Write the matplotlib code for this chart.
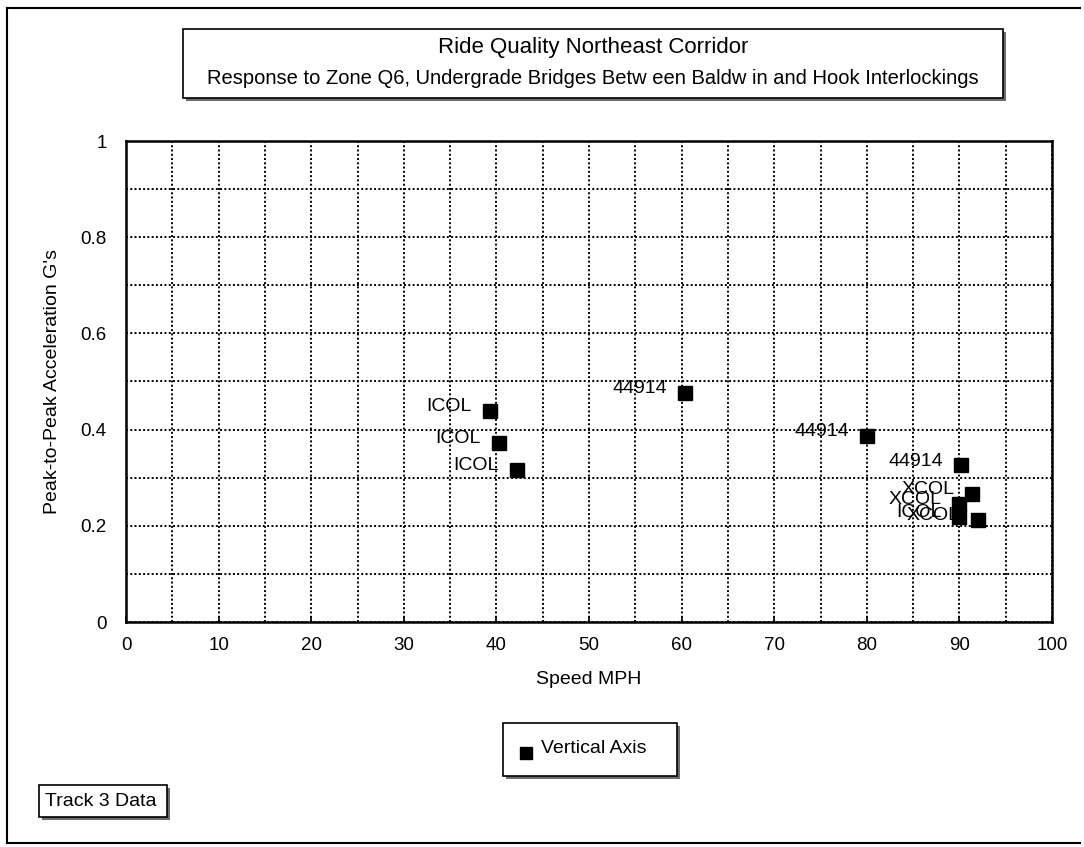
import matplotlib
matplotlib.use("Agg")
import matplotlib.pyplot as plt
from matplotlib.patches import Rectangle
from matplotlib.lines import Line2D
from matplotlib.ticker import MultipleLocator

plt.rcParams['font.family'] = ['Liberation Sans', 'DejaVu Sans']

# ---- data ----
speeds = [39.3, 40.3, 42.2, 60.4, 80.0, 90.2, 91.4, 90.0, 90.0, 92.0]
accels = [0.439, 0.372, 0.316, 0.476, 0.387, 0.326, 0.266, 0.245, 0.218, 0.212]
point_labels = ['ICOL', 'ICOL', 'ICOL', '44914', '44914', '44914',
                'XCOL', 'XCOL', 'ICOL', 'XCOL']
x_ticks = [0, 10, 20, 30, 40, 50, 60, 70, 80, 90, 100]
y_ticks = [0, 0.2, 0.4, 0.6, 0.8, 1]
y_tick_labels = ['0', '0.2', '0.4', '0.6', '0.8', '1']

title = "Ride Quality Northeast Corridor"
subtitle = "Response to Zone Q6, Undergrade Bridges Betw een Baldw in and Hook Interlockings"
series_name = "Vertical Axis"
note = "Track 3 Data"

W, H = 1084, 847
fig = plt.figure(figsize=(W / 100, H / 100), dpi=100)
fig.patch.set_facecolor('white')


def fx(px):
    return px / W


def fy(py):
    return 1 - py / H


def box(x0, y0, x1, y1, shadow=3):
    fig.patches.append(Rectangle((fx(x0 + shadow), fy(y1 + shadow)),
                                 fx(x1 - x0), (y1 - y0) / H,
                                 transform=fig.transFigure, facecolor='#6e6e6e',
                                 edgecolor='none', zorder=1))
    fig.patches.append(Rectangle((fx(x0), fy(y1)), fx(x1 - x0), (y1 - y0) / H,
                                 transform=fig.transFigure, facecolor='white',
                                 edgecolor='black', linewidth=1.2, zorder=2))


# outer frame (top, left, bottom)
for xs, ys in [([7, 1080], [8, 8]), ([7, 7], [8, 843]), ([7, 1080], [843, 843])]:
    fig.add_artist(Line2D([fx(v) for v in xs], [fy(v) for v in ys],
                          transform=fig.transFigure, color='black', linewidth=1.5))

# title box
box(183, 29, 1003, 98)
fig.text(fx(593), fy(48), title, ha='center', va='center', fontsize=16, zorder=3)
fig.text(fx(593), fy(79), subtitle, ha='center', va='center', fontsize=14.5, zorder=3)

# axes
ax = fig.add_axes([fx(126), fy(622), fx(1052 - 126), (622 - 141) / H])
ax.set_xlim(0, 100)
ax.set_ylim(0, 1)
ax.set_xticks(x_ticks)
ax.set_xticks([v + 5 for v in x_ticks[:-1]], minor=True)
ax.set_yticks(y_ticks)
ax.set_yticklabels(y_tick_labels)
ax.set_yticks([0.1, 0.3, 0.5, 0.7, 0.9], minor=True)
ax.grid(True, which='both', color='black', linestyle=(0, (1, 1.2)), linewidth=1.4)
ax.set_axisbelow(True)
ax.tick_params(axis='both', which='both', labelsize=13.5)
ax.tick_params(axis='x', which='major', direction='in', length=4, pad=11, width=1.2)
ax.tick_params(axis='x', which='minor', length=0)
ax.tick_params(axis='y', which='both', length=0, pad=14)
for s in ax.spines.values():
    s.set_linewidth(1.8)
    s.set_color('black')

ax.plot(speeds, accels, linestyle='none', marker='s', markersize=9.5,
        color='black', zorder=5, clip_on=False)
for xv, yv, lab in zip(speeds, accels, point_labels):
    ax.annotate(lab, (xv, yv), xytext=(-13, 3), textcoords='offset points',
                ha='right', va='center', fontsize=14, zorder=6)

ax.set_xlabel("Speed MPH", fontsize=14, labelpad=12)
ax.set_ylabel("Peak-to-Peak Acceleration G's", fontsize=14, labelpad=14)

# legend box
box(503, 723, 677, 776)
fig.add_artist(Line2D([fx(526)], [fy(753)], transform=fig.transFigure,
                      marker='s', markersize=9, color='black', linestyle='none', zorder=3))
fig.text(fx(541), fy(748), series_name, ha='left', va='center', fontsize=14, zorder=3)

# note box
box(39, 785, 167, 817)
fig.text(fx(45), fy(801), note, ha='left', va='center', fontsize=14, zorder=3)

fig.savefig("out.png", dpi=100)
